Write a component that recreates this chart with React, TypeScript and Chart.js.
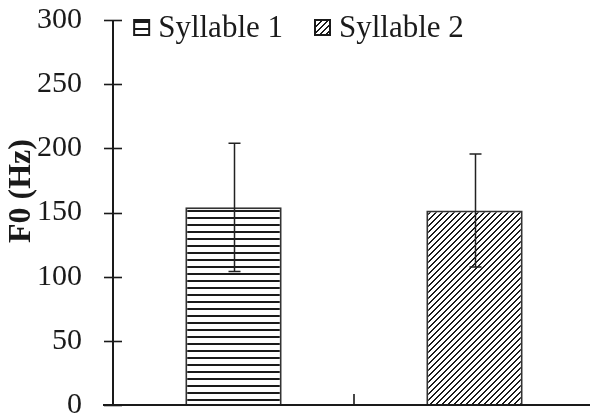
import React, { useEffect, useRef } from "react";
import { Chart, registerables } from "chart.js";

Chart.register(...registerables);

const categories = ["Syllable 1", "Syllable 2"];
const means = [154, 151.5];
const errors = [50, 44];
const yTicks = [0, 50, 100, 150, 200, 250, 300];
const yTitle = "F0 (Hz)";

const INK = "#1a1a1a";
const SERIF = '"Liberation Serif", "Times New Roman", serif';

function makeHLines(): CanvasPattern | string {
  const c = document.createElement("canvas");
  c.width = 8;
  c.height = 7;
  const g = c.getContext("2d");
  if (!g) return "#fff";
  g.fillStyle = "#fff";
  g.fillRect(0, 0, 8, 7);
  g.fillStyle = INK;
  g.fillRect(0, 0, 8, 2);
  return g.createPattern(c, "repeat") || "#fff";
}

function makeHatch(): CanvasPattern | string {
  const n = 6;
  const c = document.createElement("canvas");
  c.width = n;
  c.height = n;
  const g = c.getContext("2d");
  if (!g) return "#fff";
  g.fillStyle = "#fff";
  g.fillRect(0, 0, n, n);
  g.fillStyle = INK;
  for (let i = 0; i < n; i++) {
    g.fillRect(i % n, n - 1 - i, 1, 1);
    g.fillRect((i + 1) % n, n - 1 - i, 1, 1);
  }
  return g.createPattern(c, "repeat") || "#fff";
}

export default function App() {
  const ref = useRef<HTMLCanvasElement | null>(null);

  useEffect(() => {
    const canvas = ref.current;
    if (!canvas) return;
    const fills = [makeHLines(), makeHatch()];

    const datasets = categories.map((name, i) => ({
      label: name,
      data: categories.map((_, j) => (j === i ? means[i] : null)),
      backgroundColor: fills[i] as any,
      borderColor: "#333",
      borderWidth: 2,
      grouped: false,
      barPercentage: 0.4,
      categoryPercentage: 1,
    }));

    const customPlugin = {
      id: "custom",
      afterDatasetsDraw(chart: any) {
        const { ctx, chartArea } = chart;
        const x = chart.scales.x;
        const y = chart.scales.y;
        ctx.save();
        // axes
        ctx.strokeStyle = INK;
        ctx.lineWidth = 2;
        ctx.beginPath();
        ctx.moveTo(chartArea.left, y.getPixelForValue(300));
        ctx.lineTo(chartArea.left, y.getPixelForValue(0));
        ctx.stroke();
        ctx.beginPath();
        ctx.moveTo(chartArea.left - 10, y.getPixelForValue(0));
        ctx.lineTo(chartArea.right, y.getPixelForValue(0));
        ctx.stroke();
        ctx.lineWidth = 1.6;
        yTicks.forEach((v) => {
          const py = Math.round(y.getPixelForValue(v)) + 0.5;
          ctx.beginPath();
          ctx.moveTo(chartArea.left - 9, py);
          ctx.lineTo(chartArea.left + 9, py);
          ctx.stroke();
        });
        // category boundary tick(s)
        for (let i = 1; i < categories.length; i++) {
          const px =
            (x.getPixelForValue(i - 1) + x.getPixelForValue(i)) / 2;
          ctx.beginPath();
          ctx.moveTo(px, y.getPixelForValue(0));
          ctx.lineTo(px, y.getPixelForValue(0) - 11);
          ctx.stroke();
        }
        // error bars
        ctx.lineWidth = 1.5;
        ctx.strokeStyle = "#222";
        means.forEach((m, i) => {
          const px = Math.round(x.getPixelForValue(i)) + 0.5;
          const top = y.getPixelForValue(m + errors[i]);
          const bot = y.getPixelForValue(m - errors[i]);
          ctx.beginPath();
          ctx.moveTo(px, top);
          ctx.lineTo(px, bot);
          ctx.moveTo(px - 6, top);
          ctx.lineTo(px + 6, top);
          ctx.moveTo(px - 6, bot);
          ctx.lineTo(px + 6, bot);
          ctx.stroke();
        });
        ctx.restore();
      },
      afterDraw(chart: any) {
        const { ctx } = chart;
        ctx.save();
        // y title
        ctx.fillStyle = INK;
        ctx.font = `bold 32px ${SERIF}`;
        ctx.textAlign = "center";
        ctx.textBaseline = "middle";
        ctx.translate(22, 191);
        ctx.rotate(-Math.PI / 2);
        ctx.fillText(yTitle, 0, 0);
        ctx.restore();

        // legend
        ctx.save();
        ctx.font = `31px ${SERIF}`;
        const boxW = 15;
        const boxH = 15;
        const gap = 9;
        const spacing = 32;
        const items = chart.data.datasets.map((d: any) => ({
          label: d.label,
          fill: d.backgroundColor,
          w: boxW + gap + ctx.measureText(d.label).width,
        }));
        const total =
          items.reduce((s: number, it: any) => s + it.w, 0) +
          spacing * (items.length - 1);
        let lx = 299 - total / 2;
        items.forEach((it: any) => {
          ctx.fillStyle = it.fill;
          ctx.fillRect(lx, 20, boxW, boxH);
          ctx.strokeStyle = INK;
          ctx.lineWidth = 2;
          ctx.strokeRect(lx, 20, boxW, boxH);
          ctx.fillStyle = INK;
          ctx.textAlign = "left";
          ctx.textBaseline = "alphabetic";
          ctx.fillText(it.label, lx + boxW + gap, 37);
          lx += it.w + spacing;
        });
        ctx.restore();
      },
    };

    const chart = new Chart(canvas, {
      type: "bar",
      data: { labels: categories, datasets: datasets as any },
      options: {
        animation: false,
        responsive: false,
        devicePixelRatio: 1,
        layout: { padding: { top: 20, bottom: 14, left: 0, right: 0 } },
        plugins: {
          legend: { display: false },
          tooltip: { enabled: false },
        },
        scales: {
          x: {
            type: "category",
            display: false,
            offset: true,
          },
          y: {
            min: 0,
            max: 300,
            afterFit: (s: any) => {
              s.width = 113;
              s.paddingTop = 0;
              s.paddingBottom = 0;
            },
            afterBuildTicks: (s: any) => {
              s.ticks = yTicks.map((v) => ({ value: v }));
            },
            grid: { display: false, drawTicks: false },
            border: { display: false },
            ticks: {
              padding: 31,
              color: INK,
              font: { family: SERIF, size: 30 },
            },
          },
        },
      },
      plugins: [customPlugin],
    });
    return () => chart.destroy();
  }, []);

  return (
    <div
      style={{
        position: "fixed",
        left: 0,
        top: 0,
        width: 590,
        height: 419,
        overflow: "hidden",
        background: "#fff",
      }}
    >
      <canvas ref={ref} width={595} height={419} style={{ display: "block" }} />
    </div>
  );
}
